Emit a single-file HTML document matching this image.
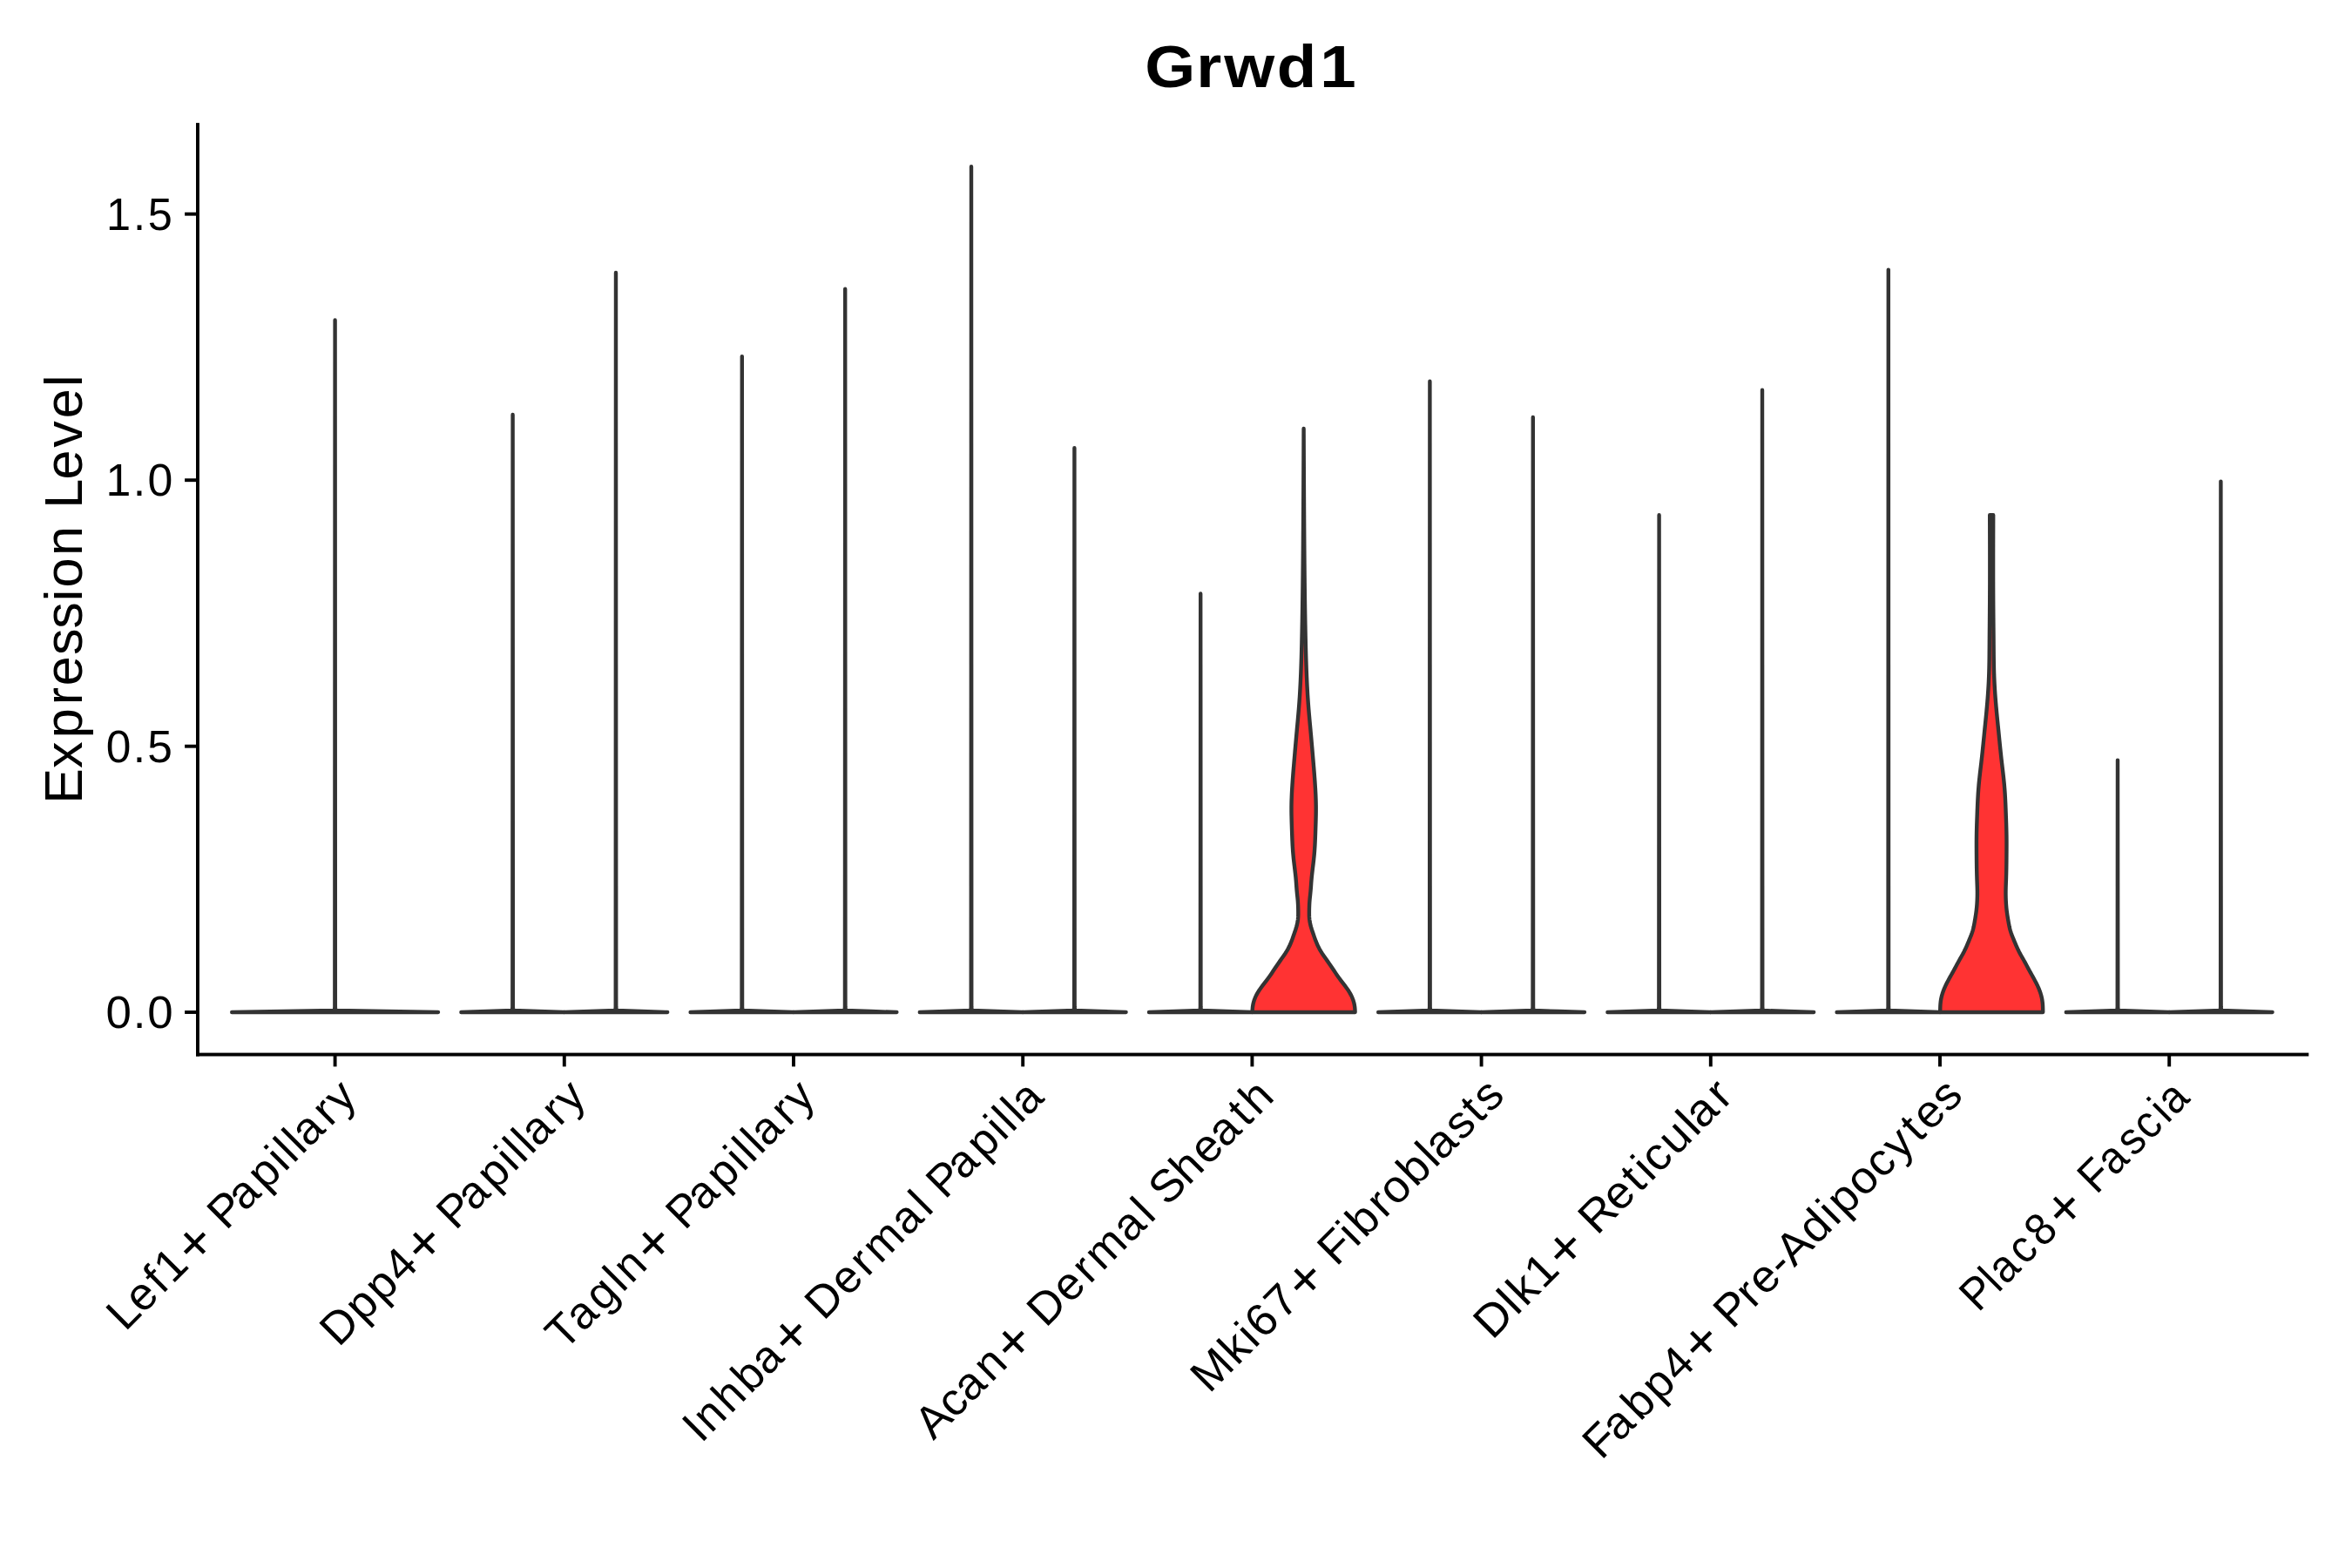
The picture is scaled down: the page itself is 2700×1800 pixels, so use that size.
<!DOCTYPE html>
<html><head><meta charset="utf-8"><title>Grwd1 violin plot</title>
<style>
html,body{margin:0;padding:0;background:#FFFFFF;overflow:hidden;}
svg{display:block;}
text{font-family:"Liberation Sans", sans-serif;fill:#000000;}
</style></head>
<body>
<svg width="2700" height="1800" viewBox="0 0 2700 1800">
<rect x="0" y="0" width="2700" height="1800" fill="#FFFFFF"/>
<path d="M266.20,1162.00 L325.40,1161.00 L384.00,1160.00 L384.35,1156.00 L384.60,367.40 L384.85,1156.00 L385.20,1160.00 L443.80,1161.00 L503.00,1162.00Z" fill="#FFFFFF" stroke="#333333" stroke-width="4.4" stroke-linejoin="round"/>
<path d="M529.40,1162.00 L559.00,1161.00 L588.00,1160.00 L588.35,1156.00 L588.60,476.00 L588.85,1156.00 L589.20,1160.00 L618.20,1161.00 L647.80,1162.00Z" fill="#FFFFFF" stroke="#333333" stroke-width="4.4" stroke-linejoin="round"/>
<path d="M647.80,1162.00 L677.40,1161.00 L706.40,1160.00 L706.75,1156.00 L707.00,312.90 L707.25,1156.00 L707.60,1160.00 L736.60,1161.00 L766.20,1162.00Z" fill="#FFFFFF" stroke="#333333" stroke-width="4.4" stroke-linejoin="round"/>
<path d="M792.60,1162.00 L822.20,1161.00 L851.20,1160.00 L851.55,1156.00 L851.80,409.10 L852.05,1156.00 L852.40,1160.00 L881.40,1161.00 L911.00,1162.00Z" fill="#FFFFFF" stroke="#333333" stroke-width="4.4" stroke-linejoin="round"/>
<path d="M911.00,1162.00 L940.60,1161.00 L969.60,1160.00 L969.95,1156.00 L970.20,331.70 L970.45,1156.00 L970.80,1160.00 L999.80,1161.00 L1029.40,1162.00Z" fill="#FFFFFF" stroke="#333333" stroke-width="4.4" stroke-linejoin="round"/>
<path d="M1055.80,1162.00 L1085.40,1161.00 L1114.40,1160.00 L1114.75,1156.00 L1115.00,191.30 L1115.25,1156.00 L1115.60,1160.00 L1144.60,1161.00 L1174.20,1162.00Z" fill="#FFFFFF" stroke="#333333" stroke-width="4.4" stroke-linejoin="round"/>
<path d="M1174.20,1162.00 L1203.80,1161.00 L1232.80,1160.00 L1233.15,1156.00 L1233.40,514.20 L1233.65,1156.00 L1234.00,1160.00 L1263.00,1161.00 L1292.60,1162.00Z" fill="#FFFFFF" stroke="#333333" stroke-width="4.4" stroke-linejoin="round"/>
<path d="M1319.00,1162.00 L1348.60,1161.00 L1377.60,1160.00 L1377.95,1156.00 L1378.20,681.40 L1378.45,1156.00 L1378.80,1160.00 L1407.80,1161.00 L1437.40,1162.00Z" fill="#FFFFFF" stroke="#333333" stroke-width="4.4" stroke-linejoin="round"/>
<path d="M1582.20,1162.00 L1611.80,1161.00 L1640.80,1160.00 L1641.15,1156.00 L1641.40,437.80 L1641.65,1156.00 L1642.00,1160.00 L1671.00,1161.00 L1700.60,1162.00Z" fill="#FFFFFF" stroke="#333333" stroke-width="4.4" stroke-linejoin="round"/>
<path d="M1700.60,1162.00 L1730.20,1161.00 L1759.20,1160.00 L1759.55,1156.00 L1759.80,479.00 L1760.05,1156.00 L1760.40,1160.00 L1789.40,1161.00 L1819.00,1162.00Z" fill="#FFFFFF" stroke="#333333" stroke-width="4.4" stroke-linejoin="round"/>
<path d="M1845.40,1162.00 L1875.00,1161.00 L1904.00,1160.00 L1904.35,1156.00 L1904.60,591.30 L1904.85,1156.00 L1905.20,1160.00 L1934.20,1161.00 L1963.80,1162.00Z" fill="#FFFFFF" stroke="#333333" stroke-width="4.4" stroke-linejoin="round"/>
<path d="M1963.80,1162.00 L1993.40,1161.00 L2022.40,1160.00 L2022.75,1156.00 L2023.00,447.80 L2023.25,1156.00 L2023.60,1160.00 L2052.60,1161.00 L2082.20,1162.00Z" fill="#FFFFFF" stroke="#333333" stroke-width="4.4" stroke-linejoin="round"/>
<path d="M2108.60,1162.00 L2138.20,1161.00 L2167.20,1160.00 L2167.55,1156.00 L2167.80,309.60 L2168.05,1156.00 L2168.40,1160.00 L2197.40,1161.00 L2227.00,1162.00Z" fill="#FFFFFF" stroke="#333333" stroke-width="4.4" stroke-linejoin="round"/>
<path d="M2371.80,1162.00 L2401.40,1161.00 L2430.40,1160.00 L2430.75,1156.00 L2431.00,872.60 L2431.25,1156.00 L2431.60,1160.00 L2460.60,1161.00 L2490.20,1162.00Z" fill="#FFFFFF" stroke="#333333" stroke-width="4.4" stroke-linejoin="round"/>
<path d="M2490.20,1162.00 L2519.80,1161.00 L2548.80,1160.00 L2549.15,1156.00 L2549.40,552.60 L2549.65,1156.00 L2550.00,1160.00 L2579.00,1161.00 L2608.60,1162.00Z" fill="#FFFFFF" stroke="#333333" stroke-width="4.4" stroke-linejoin="round"/>
<path d="M1437.60,1162.00 L1437.73,1159.20 L1437.95,1156.39 L1438.37,1153.59 L1438.99,1150.79 L1439.84,1147.98 L1440.91,1145.18 L1442.22,1142.38 L1443.76,1139.57 L1445.53,1136.77 L1447.49,1133.97 L1449.58,1131.16 L1451.73,1128.36 L1453.88,1125.56 L1455.98,1122.75 L1457.99,1119.95 L1459.91,1117.15 L1461.79,1114.34 L1463.65,1111.54 L1465.53,1108.74 L1467.45,1105.93 L1469.42,1103.13 L1471.42,1100.33 L1473.40,1097.52 L1475.30,1094.72 L1477.08,1091.92 L1478.69,1089.11 L1480.11,1086.31 L1481.38,1083.51 L1482.52,1080.70 L1483.57,1077.90 L1484.57,1075.10 L1485.55,1072.29 L1486.51,1069.49 L1487.43,1066.69 L1488.28,1063.88 L1489.01,1061.08 L1489.59,1058.28 L1489.99,1055.47 L1490.22,1052.67 L1490.31,1049.87 L1490.31,1047.06 L1490.27,1044.26 L1490.20,1041.46 L1490.09,1038.65 L1489.94,1035.85 L1489.72,1033.05 L1489.45,1030.24 L1489.15,1027.44 L1488.86,1024.64 L1488.60,1021.83 L1488.37,1019.03 L1488.17,1016.23 L1487.97,1013.42 L1487.75,1010.62 L1487.50,1007.82 L1487.22,1005.01 L1486.91,1002.21 L1486.59,999.41 L1486.25,996.60 L1485.91,993.80 L1485.57,991.00 L1485.25,988.19 L1484.94,985.39 L1484.66,982.59 L1484.41,979.78 L1484.19,976.98 L1484.00,974.18 L1483.82,971.37 L1483.67,968.57 L1483.54,965.77 L1483.42,962.96 L1483.31,960.16 L1483.21,957.36 L1483.12,954.55 L1483.02,951.75 L1482.93,948.95 L1482.84,946.14 L1482.75,943.34 L1482.68,940.54 L1482.61,937.73 L1482.55,934.93 L1482.51,932.13 L1482.50,929.32 L1482.50,926.52 L1482.53,923.72 L1482.59,920.91 L1482.67,918.11 L1482.77,915.31 L1482.88,912.50 L1483.02,909.70 L1483.17,906.90 L1483.33,904.09 L1483.51,901.29 L1483.70,898.49 L1483.89,895.68 L1484.10,892.88 L1484.31,890.08 L1484.53,887.27 L1484.75,884.47 L1484.98,881.67 L1485.22,878.86 L1485.45,876.06 L1485.69,873.26 L1485.93,870.45 L1486.17,867.65 L1486.41,864.85 L1486.65,862.04 L1486.89,859.24 L1487.14,856.44 L1487.38,853.63 L1487.63,850.83 L1487.88,848.03 L1488.13,845.22 L1488.38,842.42 L1488.64,839.62 L1488.89,836.81 L1489.15,834.01 L1489.41,831.21 L1489.67,828.40 L1489.92,825.60 L1490.17,822.79 L1490.42,819.99 L1490.66,817.19 L1490.90,814.38 L1491.12,811.58 L1491.34,808.78 L1491.55,805.97 L1491.74,803.17 L1491.93,800.37 L1492.11,797.56 L1492.27,794.76 L1492.43,791.96 L1492.58,789.15 L1492.73,786.35 L1492.86,783.55 L1492.99,780.74 L1493.12,777.94 L1493.24,775.14 L1493.35,772.33 L1493.46,769.53 L1493.56,766.73 L1493.66,763.92 L1493.75,761.12 L1493.84,758.32 L1493.93,755.51 L1494.01,752.71 L1494.09,749.91 L1494.16,747.10 L1494.23,744.30 L1494.30,741.50 L1494.37,738.69 L1494.43,735.89 L1494.49,733.09 L1494.55,730.28 L1494.61,727.48 L1494.67,724.68 L1494.72,721.87 L1494.77,719.07 L1494.83,716.27 L1494.88,713.46 L1494.93,710.66 L1494.97,707.86 L1495.02,705.05 L1495.06,702.25 L1495.11,699.45 L1495.15,696.64 L1495.19,693.84 L1495.23,691.04 L1495.27,688.23 L1495.31,685.43 L1495.34,682.63 L1495.38,679.82 L1495.41,677.02 L1495.45,674.22 L1495.48,671.41 L1495.51,668.61 L1495.54,665.81 L1495.57,663.00 L1495.60,660.20 L1495.63,657.40 L1495.66,654.59 L1495.68,651.79 L1495.71,648.99 L1495.74,646.18 L1495.76,643.38 L1495.78,640.58 L1495.81,637.77 L1495.83,634.97 L1495.85,632.17 L1495.88,629.36 L1495.90,626.56 L1495.92,623.76 L1495.94,620.95 L1495.96,618.15 L1495.98,615.35 L1496.00,612.54 L1496.02,609.74 L1496.04,606.94 L1496.06,604.13 L1496.07,601.33 L1496.09,598.53 L1496.11,595.72 L1496.12,592.92 L1496.14,590.12 L1496.16,587.31 L1496.17,584.51 L1496.19,581.71 L1496.20,578.90 L1496.22,576.10 L1496.23,573.30 L1496.25,570.49 L1496.26,567.69 L1496.28,564.89 L1496.29,562.08 L1496.30,559.28 L1496.32,556.48 L1496.33,553.67 L1496.34,550.87 L1496.36,548.07 L1496.37,545.26 L1496.38,542.46 L1496.40,539.66 L1496.41,536.85 L1496.42,534.05 L1496.43,531.25 L1496.45,528.44 L1496.46,525.64 L1496.47,522.84 L1496.48,520.03 L1496.49,517.23 L1496.51,514.43 L1496.52,511.62 L1496.53,508.82 L1496.54,506.02 L1496.55,503.21 L1496.56,500.41 L1496.58,497.61 L1496.59,494.80 L1496.60,492.00 L1496.60,492.00 L1496.61,494.80 L1496.62,497.61 L1496.64,500.41 L1496.65,503.21 L1496.66,506.02 L1496.67,508.82 L1496.68,511.62 L1496.69,514.43 L1496.71,517.23 L1496.72,520.03 L1496.73,522.84 L1496.74,525.64 L1496.75,528.44 L1496.77,531.25 L1496.78,534.05 L1496.79,536.85 L1496.80,539.66 L1496.82,542.46 L1496.83,545.26 L1496.84,548.07 L1496.86,550.87 L1496.87,553.67 L1496.88,556.48 L1496.90,559.28 L1496.91,562.08 L1496.92,564.89 L1496.94,567.69 L1496.95,570.49 L1496.97,573.30 L1496.98,576.10 L1497.00,578.90 L1497.01,581.71 L1497.03,584.51 L1497.04,587.31 L1497.06,590.12 L1497.08,592.92 L1497.09,595.72 L1497.11,598.53 L1497.13,601.33 L1497.14,604.13 L1497.16,606.94 L1497.18,609.74 L1497.20,612.54 L1497.22,615.35 L1497.24,618.15 L1497.26,620.95 L1497.28,623.76 L1497.30,626.56 L1497.32,629.36 L1497.35,632.17 L1497.37,634.97 L1497.39,637.77 L1497.42,640.58 L1497.44,643.38 L1497.46,646.18 L1497.49,648.99 L1497.52,651.79 L1497.54,654.59 L1497.57,657.40 L1497.60,660.20 L1497.63,663.00 L1497.66,665.81 L1497.69,668.61 L1497.72,671.41 L1497.75,674.22 L1497.79,677.02 L1497.82,679.82 L1497.86,682.63 L1497.89,685.43 L1497.93,688.23 L1497.97,691.04 L1498.01,693.84 L1498.05,696.64 L1498.09,699.45 L1498.14,702.25 L1498.18,705.05 L1498.23,707.86 L1498.27,710.66 L1498.32,713.46 L1498.37,716.27 L1498.43,719.07 L1498.48,721.87 L1498.53,724.68 L1498.59,727.48 L1498.65,730.28 L1498.71,733.09 L1498.77,735.89 L1498.83,738.69 L1498.90,741.50 L1498.97,744.30 L1499.04,747.10 L1499.11,749.91 L1499.19,752.71 L1499.27,755.51 L1499.36,758.32 L1499.45,761.12 L1499.54,763.92 L1499.64,766.73 L1499.74,769.53 L1499.85,772.33 L1499.96,775.14 L1500.08,777.94 L1500.21,780.74 L1500.34,783.55 L1500.47,786.35 L1500.62,789.15 L1500.77,791.96 L1500.93,794.76 L1501.09,797.56 L1501.27,800.37 L1501.46,803.17 L1501.65,805.97 L1501.86,808.78 L1502.08,811.58 L1502.30,814.38 L1502.54,817.19 L1502.78,819.99 L1503.03,822.79 L1503.28,825.60 L1503.53,828.40 L1503.79,831.21 L1504.05,834.01 L1504.31,836.81 L1504.56,839.62 L1504.82,842.42 L1505.07,845.22 L1505.32,848.03 L1505.57,850.83 L1505.82,853.63 L1506.06,856.44 L1506.31,859.24 L1506.55,862.04 L1506.79,864.85 L1507.03,867.65 L1507.27,870.45 L1507.51,873.26 L1507.75,876.06 L1507.98,878.86 L1508.22,881.67 L1508.45,884.47 L1508.67,887.27 L1508.89,890.08 L1509.10,892.88 L1509.31,895.68 L1509.50,898.49 L1509.69,901.29 L1509.87,904.09 L1510.03,906.90 L1510.18,909.70 L1510.32,912.50 L1510.43,915.31 L1510.53,918.11 L1510.61,920.91 L1510.67,923.72 L1510.70,926.52 L1510.70,929.32 L1510.69,932.13 L1510.65,934.93 L1510.59,937.73 L1510.52,940.54 L1510.45,943.34 L1510.36,946.14 L1510.27,948.95 L1510.18,951.75 L1510.08,954.55 L1509.99,957.36 L1509.89,960.16 L1509.78,962.96 L1509.66,965.77 L1509.53,968.57 L1509.38,971.37 L1509.20,974.18 L1509.01,976.98 L1508.79,979.78 L1508.54,982.59 L1508.26,985.39 L1507.95,988.19 L1507.63,991.00 L1507.29,993.80 L1506.95,996.60 L1506.61,999.41 L1506.29,1002.21 L1505.98,1005.01 L1505.70,1007.82 L1505.45,1010.62 L1505.23,1013.42 L1505.03,1016.23 L1504.83,1019.03 L1504.60,1021.83 L1504.34,1024.64 L1504.05,1027.44 L1503.75,1030.24 L1503.48,1033.05 L1503.26,1035.85 L1503.11,1038.65 L1503.00,1041.46 L1502.93,1044.26 L1502.89,1047.06 L1502.89,1049.87 L1502.98,1052.67 L1503.21,1055.47 L1503.61,1058.28 L1504.19,1061.08 L1504.92,1063.88 L1505.77,1066.69 L1506.69,1069.49 L1507.65,1072.29 L1508.63,1075.10 L1509.63,1077.90 L1510.68,1080.70 L1511.82,1083.51 L1513.09,1086.31 L1514.51,1089.11 L1516.12,1091.92 L1517.90,1094.72 L1519.80,1097.52 L1521.78,1100.33 L1523.78,1103.13 L1525.75,1105.93 L1527.67,1108.74 L1529.55,1111.54 L1531.41,1114.34 L1533.29,1117.15 L1535.21,1119.95 L1537.22,1122.75 L1539.32,1125.56 L1541.47,1128.36 L1543.62,1131.16 L1545.71,1133.97 L1547.67,1136.77 L1549.44,1139.57 L1550.98,1142.38 L1552.29,1145.18 L1553.36,1147.98 L1554.21,1150.79 L1554.83,1153.59 L1555.25,1156.39 L1555.47,1159.20 L1555.60,1162.00Z" fill="#FF3333" stroke="#333333" stroke-width="4.4" stroke-linejoin="round"/>
<path d="M2227.20,1162.00 L2227.23,1159.61 L2227.27,1157.22 L2227.36,1154.84 L2227.52,1152.45 L2227.76,1150.06 L2228.11,1147.67 L2228.57,1145.28 L2229.16,1142.89 L2229.85,1140.51 L2230.66,1138.12 L2231.57,1135.73 L2232.59,1133.34 L2233.69,1130.95 L2234.87,1128.56 L2236.11,1126.18 L2237.40,1123.79 L2238.72,1121.40 L2240.06,1119.01 L2241.40,1116.62 L2242.72,1114.23 L2244.01,1111.85 L2245.29,1109.46 L2246.57,1107.07 L2247.87,1104.68 L2249.20,1102.29 L2250.55,1099.90 L2251.91,1097.52 L2253.25,1095.13 L2254.52,1092.74 L2255.71,1090.35 L2256.82,1087.96 L2257.87,1085.57 L2258.88,1083.19 L2259.87,1080.80 L2260.86,1078.41 L2261.84,1076.02 L2262.79,1073.63 L2263.66,1071.25 L2264.44,1068.86 L2265.11,1066.47 L2265.67,1064.08 L2266.16,1061.69 L2266.60,1059.30 L2267.01,1056.92 L2267.42,1054.53 L2267.81,1052.14 L2268.18,1049.75 L2268.52,1047.36 L2268.82,1044.97 L2269.08,1042.59 L2269.30,1040.20 L2269.48,1037.81 L2269.63,1035.42 L2269.74,1033.03 L2269.83,1030.64 L2269.88,1028.26 L2269.91,1025.87 L2269.90,1023.48 L2269.87,1021.09 L2269.81,1018.70 L2269.73,1016.31 L2269.65,1013.93 L2269.56,1011.54 L2269.47,1009.15 L2269.40,1006.76 L2269.33,1004.37 L2269.27,1001.98 L2269.22,999.60 L2269.17,997.21 L2269.13,994.82 L2269.10,992.43 L2269.07,990.04 L2269.04,987.66 L2269.02,985.27 L2269.00,982.88 L2268.98,980.49 L2268.96,978.10 L2268.95,975.71 L2268.94,973.33 L2268.93,970.94 L2268.93,968.55 L2268.93,966.16 L2268.95,963.77 L2268.97,961.38 L2269.00,959.00 L2269.04,956.61 L2269.09,954.22 L2269.15,951.83 L2269.21,949.44 L2269.28,947.05 L2269.36,944.67 L2269.44,942.28 L2269.52,939.89 L2269.61,937.50 L2269.70,935.11 L2269.78,932.72 L2269.87,930.34 L2269.97,927.95 L2270.06,925.56 L2270.16,923.17 L2270.27,920.78 L2270.39,918.39 L2270.51,916.01 L2270.65,913.62 L2270.79,911.23 L2270.95,908.84 L2271.12,906.45 L2271.31,904.07 L2271.51,901.68 L2271.73,899.29 L2271.97,896.90 L2272.21,894.51 L2272.47,892.12 L2272.74,889.74 L2273.01,887.35 L2273.28,884.96 L2273.56,882.57 L2273.85,880.18 L2274.13,877.79 L2274.41,875.41 L2274.68,873.02 L2274.95,870.63 L2275.22,868.24 L2275.48,865.85 L2275.73,863.46 L2275.98,861.08 L2276.23,858.69 L2276.47,856.30 L2276.71,853.91 L2276.95,851.52 L2277.19,849.13 L2277.43,846.75 L2277.66,844.36 L2277.90,841.97 L2278.14,839.58 L2278.38,837.19 L2278.62,834.81 L2278.87,832.42 L2279.11,830.03 L2279.35,827.64 L2279.59,825.25 L2279.82,822.86 L2280.06,820.48 L2280.29,818.09 L2280.51,815.70 L2280.73,813.31 L2280.95,810.92 L2281.15,808.53 L2281.36,806.15 L2281.55,803.76 L2281.74,801.37 L2281.92,798.98 L2282.09,796.59 L2282.25,794.20 L2282.40,791.82 L2282.55,789.43 L2282.69,787.04 L2282.82,784.65 L2282.93,782.26 L2283.04,779.87 L2283.14,777.49 L2283.23,775.10 L2283.31,772.71 L2283.38,770.32 L2283.45,767.93 L2283.50,765.54 L2283.55,763.16 L2283.59,760.77 L2283.63,758.38 L2283.66,755.99 L2283.69,753.60 L2283.71,751.22 L2283.73,748.83 L2283.75,746.44 L2283.77,744.05 L2283.79,741.66 L2283.81,739.27 L2283.82,736.89 L2283.84,734.50 L2283.86,732.11 L2283.88,729.72 L2283.90,727.33 L2283.92,724.94 L2283.94,722.56 L2283.96,720.17 L2283.99,717.78 L2284.01,715.39 L2284.03,713.00 L2284.05,710.61 L2284.07,708.23 L2284.09,705.84 L2284.11,703.45 L2284.12,701.06 L2284.14,698.67 L2284.16,696.28 L2284.18,693.90 L2284.19,691.51 L2284.21,689.12 L2284.22,686.73 L2284.23,684.34 L2284.24,681.95 L2284.25,679.57 L2284.26,677.18 L2284.27,674.79 L2284.28,672.40 L2284.29,670.01 L2284.29,667.63 L2284.30,665.24 L2284.30,662.85 L2284.31,660.46 L2284.31,658.07 L2284.31,655.68 L2284.31,653.30 L2284.31,650.91 L2284.31,648.52 L2284.31,646.13 L2284.31,643.74 L2284.31,641.35 L2284.31,638.97 L2284.31,636.58 L2284.30,634.19 L2284.30,631.80 L2284.30,629.41 L2284.29,627.02 L2284.29,624.64 L2284.28,622.25 L2284.28,619.86 L2284.27,617.47 L2284.27,615.08 L2284.26,612.69 L2284.25,610.31 L2284.25,607.92 L2284.24,605.53 L2284.24,603.14 L2284.23,600.75 L2284.22,598.36 L2284.21,595.98 L2284.21,593.59 L2284.20,591.20 L2288.20,591.20 L2288.19,593.59 L2288.19,595.98 L2288.18,598.36 L2288.17,600.75 L2288.16,603.14 L2288.16,605.53 L2288.15,607.92 L2288.15,610.31 L2288.14,612.69 L2288.13,615.08 L2288.13,617.47 L2288.12,619.86 L2288.12,622.25 L2288.11,624.64 L2288.11,627.02 L2288.10,629.41 L2288.10,631.80 L2288.10,634.19 L2288.09,636.58 L2288.09,638.97 L2288.09,641.35 L2288.09,643.74 L2288.09,646.13 L2288.09,648.52 L2288.09,650.91 L2288.09,653.30 L2288.09,655.68 L2288.09,658.07 L2288.09,660.46 L2288.10,662.85 L2288.10,665.24 L2288.11,667.63 L2288.11,670.01 L2288.12,672.40 L2288.13,674.79 L2288.14,677.18 L2288.15,679.57 L2288.16,681.95 L2288.17,684.34 L2288.18,686.73 L2288.19,689.12 L2288.21,691.51 L2288.22,693.90 L2288.24,696.28 L2288.26,698.67 L2288.28,701.06 L2288.29,703.45 L2288.31,705.84 L2288.33,708.23 L2288.35,710.61 L2288.37,713.00 L2288.39,715.39 L2288.41,717.78 L2288.44,720.17 L2288.46,722.56 L2288.48,724.94 L2288.50,727.33 L2288.52,729.72 L2288.54,732.11 L2288.56,734.50 L2288.58,736.89 L2288.59,739.27 L2288.61,741.66 L2288.63,744.05 L2288.65,746.44 L2288.67,748.83 L2288.69,751.22 L2288.71,753.60 L2288.74,755.99 L2288.77,758.38 L2288.81,760.77 L2288.85,763.16 L2288.90,765.54 L2288.95,767.93 L2289.02,770.32 L2289.09,772.71 L2289.17,775.10 L2289.26,777.49 L2289.36,779.87 L2289.47,782.26 L2289.58,784.65 L2289.71,787.04 L2289.85,789.43 L2290.00,791.82 L2290.15,794.20 L2290.31,796.59 L2290.48,798.98 L2290.66,801.37 L2290.85,803.76 L2291.04,806.15 L2291.25,808.53 L2291.45,810.92 L2291.67,813.31 L2291.89,815.70 L2292.11,818.09 L2292.34,820.48 L2292.58,822.86 L2292.81,825.25 L2293.05,827.64 L2293.29,830.03 L2293.53,832.42 L2293.78,834.81 L2294.02,837.19 L2294.26,839.58 L2294.50,841.97 L2294.74,844.36 L2294.97,846.75 L2295.21,849.13 L2295.45,851.52 L2295.69,853.91 L2295.93,856.30 L2296.17,858.69 L2296.42,861.08 L2296.67,863.46 L2296.92,865.85 L2297.18,868.24 L2297.45,870.63 L2297.72,873.02 L2297.99,875.41 L2298.27,877.79 L2298.55,880.18 L2298.84,882.57 L2299.12,884.96 L2299.39,887.35 L2299.66,889.74 L2299.93,892.12 L2300.19,894.51 L2300.43,896.90 L2300.67,899.29 L2300.89,901.68 L2301.09,904.07 L2301.28,906.45 L2301.45,908.84 L2301.61,911.23 L2301.75,913.62 L2301.89,916.01 L2302.01,918.39 L2302.13,920.78 L2302.24,923.17 L2302.34,925.56 L2302.43,927.95 L2302.53,930.34 L2302.62,932.72 L2302.70,935.11 L2302.79,937.50 L2302.88,939.89 L2302.96,942.28 L2303.04,944.67 L2303.12,947.05 L2303.19,949.44 L2303.25,951.83 L2303.31,954.22 L2303.36,956.61 L2303.40,959.00 L2303.43,961.38 L2303.45,963.77 L2303.47,966.16 L2303.47,968.55 L2303.47,970.94 L2303.46,973.33 L2303.45,975.71 L2303.44,978.10 L2303.42,980.49 L2303.40,982.88 L2303.38,985.27 L2303.36,987.66 L2303.33,990.04 L2303.30,992.43 L2303.27,994.82 L2303.23,997.21 L2303.18,999.60 L2303.13,1001.98 L2303.07,1004.37 L2303.00,1006.76 L2302.93,1009.15 L2302.84,1011.54 L2302.75,1013.93 L2302.67,1016.31 L2302.59,1018.70 L2302.53,1021.09 L2302.50,1023.48 L2302.49,1025.87 L2302.52,1028.26 L2302.57,1030.64 L2302.66,1033.03 L2302.77,1035.42 L2302.92,1037.81 L2303.10,1040.20 L2303.32,1042.59 L2303.58,1044.97 L2303.88,1047.36 L2304.22,1049.75 L2304.59,1052.14 L2304.98,1054.53 L2305.39,1056.92 L2305.80,1059.30 L2306.24,1061.69 L2306.73,1064.08 L2307.29,1066.47 L2307.96,1068.86 L2308.74,1071.25 L2309.61,1073.63 L2310.56,1076.02 L2311.54,1078.41 L2312.53,1080.80 L2313.52,1083.19 L2314.53,1085.57 L2315.58,1087.96 L2316.69,1090.35 L2317.88,1092.74 L2319.15,1095.13 L2320.49,1097.52 L2321.85,1099.90 L2323.20,1102.29 L2324.53,1104.68 L2325.83,1107.07 L2327.11,1109.46 L2328.39,1111.85 L2329.68,1114.23 L2331.00,1116.62 L2332.34,1119.01 L2333.68,1121.40 L2335.00,1123.79 L2336.29,1126.18 L2337.53,1128.56 L2338.71,1130.95 L2339.81,1133.34 L2340.83,1135.73 L2341.74,1138.12 L2342.55,1140.51 L2343.24,1142.89 L2343.83,1145.28 L2344.29,1147.67 L2344.64,1150.06 L2344.88,1152.45 L2345.04,1154.84 L2345.13,1157.22 L2345.17,1159.61 L2345.20,1162.00Z" fill="#FF3333" stroke="#333333" stroke-width="4.4" stroke-linejoin="round"/>
<rect x="225.0" y="141.1" width="3.9" height="1071.4" fill="#000"/>
<rect x="225.0" y="1208.6" width="2425.3" height="3.9" fill="#000"/>
<rect x="212.1" y="1160.05" width="14.9" height="3.9" fill="#000"/>
<rect x="212.1" y="854.75" width="14.9" height="3.9" fill="#000"/>
<rect x="212.1" y="549.25" width="14.9" height="3.9" fill="#000"/>
<rect x="212.1" y="243.75" width="14.9" height="3.9" fill="#000"/>
<rect x="382.65" y="1210.5" width="3.9" height="13.9" fill="#000"/>
<rect x="645.85" y="1210.5" width="3.9" height="13.9" fill="#000"/>
<rect x="909.05" y="1210.5" width="3.9" height="13.9" fill="#000"/>
<rect x="1172.25" y="1210.5" width="3.9" height="13.9" fill="#000"/>
<rect x="1435.45" y="1210.5" width="3.9" height="13.9" fill="#000"/>
<rect x="1698.65" y="1210.5" width="3.9" height="13.9" fill="#000"/>
<rect x="1961.85" y="1210.5" width="3.9" height="13.9" fill="#000"/>
<rect x="2225.05" y="1210.5" width="3.9" height="13.9" fill="#000"/>
<rect x="2488.25" y="1210.5" width="3.9" height="13.9" fill="#000"/>
<text transform="translate(120.28,1180.20) rotate(0) scale(1.0112,1)" font-size="52.25"><tspan x="1.19 32.04 48.37" y="0">0.0</tspan></text>
<text transform="translate(120.28,874.90) rotate(0) scale(0.9855,1)" font-size="52.25"><tspan x="1.60 33.06 49.81" y="0">0.5</tspan></text>
<text transform="translate(120.28,569.40) rotate(0) scale(0.9918,1)" font-size="52.25"><tspan x="1.24 32.80 49.59" y="0">1.0</tspan></text>
<text transform="translate(120.28,263.90) rotate(0) scale(0.9649,1)" font-size="52.25"><tspan x="1.70 33.92 51.18" y="0">1.5</tspan></text>
<text transform="translate(143.40,1529.44) rotate(-45) scale(1.0063,1)" font-size="52.25"><tspan x="0.34 28.54 60.37 76.74" y="0">Lef1</tspan><tspan x="109.49" y="5.62" font-size="64.05">+</tspan><tspan x="149.63 163.16 193.56 226.74 257.85 271.63 285.44 296.96 331.06 350.65" y="0"> Papillary</tspan></text>
<text transform="translate(388.38,1547.66) rotate(-45) scale(1.0012,1)" font-size="52.25"><tspan x="0.44 40.09 71.79 103.20" y="0">Dpp4</tspan><tspan x="135.82" y="5.68" font-size="64.21">+</tspan><tspan x="176.15 189.81 220.36 253.70 284.92 298.77 312.65 324.28 358.53 378.23" y="0"> Papillary</tspan></text>
<text transform="translate(648.25,1550.99) rotate(-45) scale(0.9916,1)" font-size="52.25"><tspan x="-0.55 29.83 62.86 94.90 109.27" y="0">Tagln</tspan><tspan x="141.97" y="5.78" font-size="64.52">+</tspan><tspan x="182.67 196.57 227.38 261.04 292.48 306.46 320.47 332.31 366.83 386.75" y="0"> Papillary</tspan></text>
<text transform="translate(804.82,1657.62) rotate(-45) scale(0.9910,1)" font-size="52.25"><tspan x="0.18 16.45 48.35 80.64 109.90" y="0">Inhba</tspan><tspan x="144.08" y="5.79" font-size="64.54">+</tspan><tspan x="184.81 200.73 240.02 272.63 293.66 338.91 371.98 385.56 399.47 430.30 463.98 495.43 509.42 523.44 535.29" y="0"> Dermal Papilla</tspan></text>
<text transform="translate(1071.69,1653.95) rotate(-45) scale(1.0043,1)" font-size="52.25"><tspan x="-0.41 34.09 60.28 93.29" y="0">Acan</tspan><tspan x="125.64" y="5.64" font-size="64.11">+</tspan><tspan x="165.86 181.41 220.25 252.49 273.08 317.81 350.58 363.95 377.77 412.00 443.16 471.76 505.79 524.21" y="0"> Dermal Sheath</tspan></text>
<text transform="translate(1388.62,1600.22) rotate(-45) scale(1.0096,1)" font-size="52.25"><tspan x="-0.39 44.38 72.51 86.38 117.79" y="0">Mki67</tspan><tspan x="150.28" y="5.59" font-size="63.94">+</tspan><tspan x="190.29 203.60 235.01 249.16 281.53 300.10 331.26 362.28 373.73 405.50 433.43 450.72" y="0"> Fibroblasts</tspan></text>
<text transform="translate(1713.12,1538.92) rotate(-45) scale(1.0260,1)" font-size="52.25"><tspan x="-0.05 38.49 52.45 79.97" y="0">Dlk1</tspan><tspan x="112.20" y="5.42" font-size="63.43">+</tspan><tspan x="151.60 165.43 201.03 232.61 250.54 262.84 290.69 321.73 332.85 366.40" y="0"> Reticular</tspan></text>
<text transform="translate(1839.54,1675.70) rotate(-45) scale(1.0069,1)" font-size="52.25"><tspan x="-1.78 27.37 60.53 92.05 123.28" y="0">Fabp4</tspan><tspan x="155.75" y="5.62" font-size="64.02">+</tspan><tspan x="195.86 209.38 243.42 262.21 292.18 309.38 344.74 376.44 390.66 421.31 451.02 479.94 510.05 528.02 557.95" y="0"> Pre-Adipocytes</tspan></text>
<text transform="translate(2271.32,1507.12) rotate(-45) scale(0.9326,1)" font-size="52.25"><tspan x="-0.31 33.97 47.19 81.15 112.07" y="0">Plac8</tspan><tspan x="146.71" y="6.46" font-size="66.57">+</tspan><tspan x="189.85 205.07 236.43 270.59 298.33 328.40 341.59" y="0"> Fascia</tspan></text>
<text transform="translate(93.90,920.62) rotate(-90) scale(1.0024,1)" font-size="60.95"><tspan x="-2.14 38.62 73.09 111.08 133.14 168.20 198.52 229.85 245.54 281.89 317.94 336.13 369.14 405.86 439.38 475.43" y="0">Expression Level</tspan></text>
<text transform="translate(1315.80,100.10) rotate(0) scale(1.0858,1)" font-size="68.67" font-weight="bold"><tspan x="-1.52 52.92 82.38 138.06 183.77" y="0">Grwd1</tspan></text>
</svg>
</body></html>
